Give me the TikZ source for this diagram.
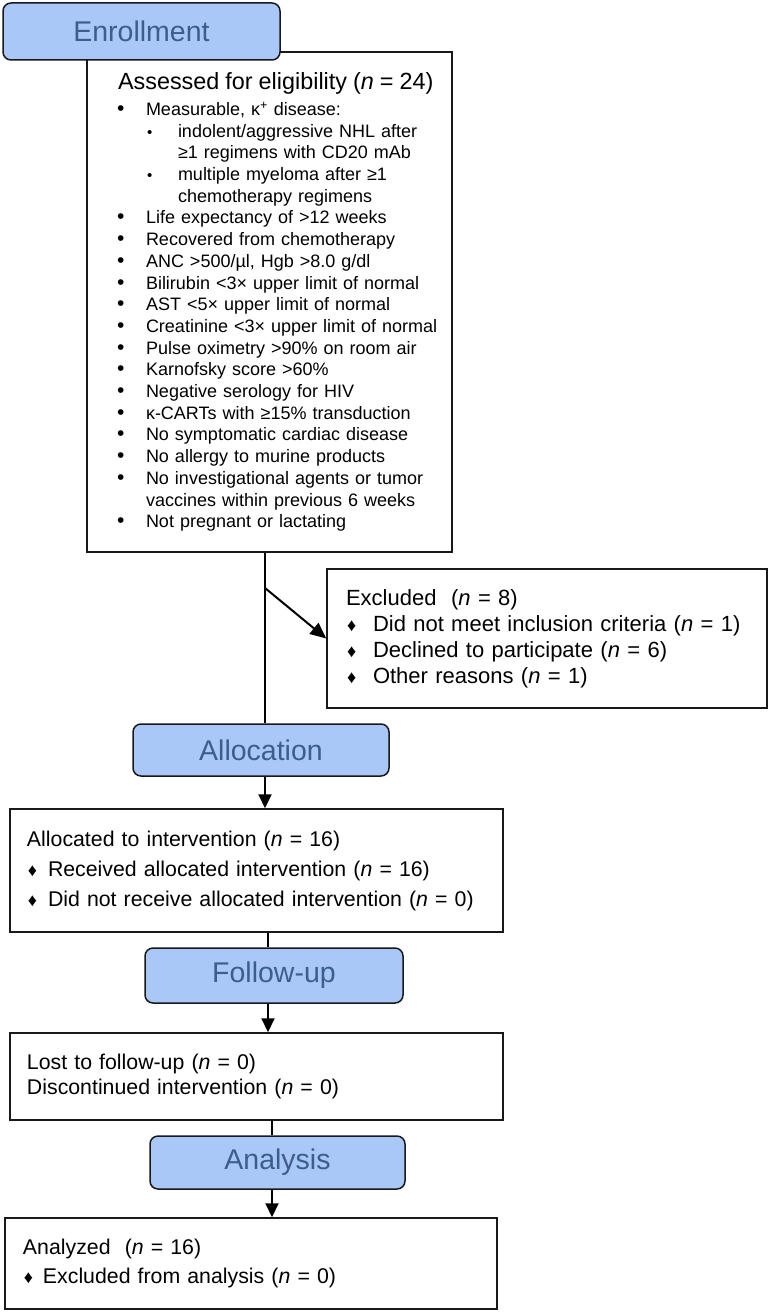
\documentclass[tikz,border=0pt]{standalone}
\usepackage{fontspec}
\setmainfont{Liberation Sans}
\usepackage{tikz}
\usetikzlibrary{arrows.meta}

\definecolor{phasefill}{RGB}{169,199,247}
\definecolor{phasetext}{RGB}{59,94,143}
\definecolor{edge}{RGB}{25,25,25}

\tikzset{
  phasebox/.style={draw=edge, line width=1.5pt, rounded corners=8pt, fill=phasefill,
    text=phasetext, font=\fontsize{28.5}{30}\selectfont},
  infobox/.style={draw=edge, line width=1.5pt, align=left, inner ysep=0pt},
  link/.style={line width=2pt, draw=black},
  arr/.style={link, -{Triangle[length=14pt,width=13pt]}}
}

% list helpers
\newcommand{\mitem}[1]{\hspace*{18pt}\makebox[29pt][l]{\fontsize{21}{21}\selectfont •}#1}
\newcommand{\sitem}[1]{\hspace*{48pt}\makebox[31pt][l]{\fontsize{15}{15}\selectfont •}#1}
\newcommand{\ditem}[2]{\makebox[#1][l]{\hspace*{1pt}{\fontsize{18}{18}\selectfont ♦}}#2}

\begin{document}
\begin{tikzpicture}[x=1pt,y=-1pt]
        \useasboundingbox (0,0) rectangle (770,1314);
        % eligibility
        \node[infobox, text width=341pt, inner xsep=12pt, minimum height=500pt,
              font=\fontsize{18}{21.7}\selectfont] (elig) at (269.5,302) {
          \hspace*{19pt}{\fontsize{23.4}{26}\selectfont Assessed for eligibility (\textit{n} = 24)}\\[4.3pt]
          \mitem{Measurable, κ\textsuperscript{+} disease:}\\
          \sitem{indolent/aggressive NHL after}\\
          \hspace*{79pt}≥1 regimens with CD20 mAb\\
          \sitem{multiple myeloma after ≥1}\\
          \hspace*{79pt}chemotherapy regimens\\
          \mitem{Life expectancy of >12 weeks}\\
          \mitem{Recovered from chemotherapy}\\
          \mitem{ANC >500/µl, Hgb >8.0 g/dl}\\
          \mitem{Bilirubin <3× upper limit of normal}\\
          \mitem{AST <5× upper limit of normal}\\
          \mitem{Creatinine <3× upper limit of normal}\\
          \mitem{Pulse oximetry >90\% on room air}\\
          \mitem{Karnofsky score >60\%}\\
          \mitem{Negative serology for HIV}\\
          \mitem{κ-CARTs with ≥15\% transduction}\\
          \mitem{No symptomatic cardiac disease}\\
          \mitem{No allergy to murine products}\\
          \mitem{No investigational agents or tumor}\\
          \hspace*{47pt}vaccines within previous 6 weeks\\
          \mitem{Not pregnant or lactating}};
        % excluded
        \node[infobox, text width=402pt, inner xsep=19pt, minimum height=139pt,
              font=\fontsize{22}{26}\selectfont] (excl) at (547,638.5) {
          Excluded\ \ (\textit{n} = 8)\\
          \ditem{27pt}{Did not meet inclusion criteria (\textit{n} = 1)}\\
          \ditem{27pt}{Declined to participate (\textit{n} = 6)}\\
          \ditem{27pt}{Other reasons (\textit{n} = 1)}};
        % allocated
        \node[infobox, text width=459pt, inner xsep=17pt, minimum height=123pt,
              font=\fontsize{21.3}{30}\selectfont] (alloc) at (256.5,870.5) {
          Allocated to intervention (\textit{n} = 16)\\
          \ditem{21pt}{Received allocated intervention (\textit{n} = 16)}\\
          \ditem{21pt}{Did not receive allocated intervention (\textit{n} = 0)}};
        % follow-up
        \node[infobox, text width=459pt, inner xsep=17pt, minimum height=87pt,
              font=\fontsize{21.3}{25}\selectfont] (lost) at (256.5,1076.5) {
          Lost to follow-up (\textit{n} = 0)\\
          Discontinued intervention (\textit{n} = 0)};
        % analysis
        \node[infobox, text width=456pt, inner xsep=18pt, minimum height=91pt,
              font=\fontsize{21.3}{29}\selectfont] (analyzed) at (251,1263.5) {
          Analyzed\ \ (\textit{n} = 16)\\
          \ditem{20pt}{Excluded from analysis (\textit{n} = 0)}};
        % phases
        \node[phasebox, minimum width=277pt, minimum height=57pt] (enrol) at (141.5,31.5) {Enrollment};
        \node[phasebox, minimum width=256pt, minimum height=52pt] (allocph) at (261,750) {Allocation};
        \node[phasebox, minimum width=258pt, minimum height=55pt] (followph) at (274,975.5) {Follow-up};
        \node[phasebox, minimum width=255pt, minimum height=53pt] (analph) at (277.5,1162.5) {Analysis};
        % connectors
        \coordinate (sa) at (265,0);
        \coordinate (sb) at (268,0);
        \coordinate (sc) at (272,0);
        \coordinate (brk) at (265,588);
        \draw[link] (elig.south -| sa) -- (allocph.north -| sa);
        \draw[arr, -{Triangle[length=16pt,width=14pt]}] (brk) -- (excl.west);
        \draw[arr] (allocph.south -| sa) -- (alloc.north -| sa);
        \draw[link] (alloc.south -| sb) -- (followph.north -| sb);
        \draw[arr] (followph.south -| sb) -- (lost.north -| sb);
        \draw[link] (lost.south -| sc) -- (analph.north -| sc);
        \draw[arr] (analph.south -| sc) -- (analyzed.north -| sc);
\end{tikzpicture}
\end{document}
